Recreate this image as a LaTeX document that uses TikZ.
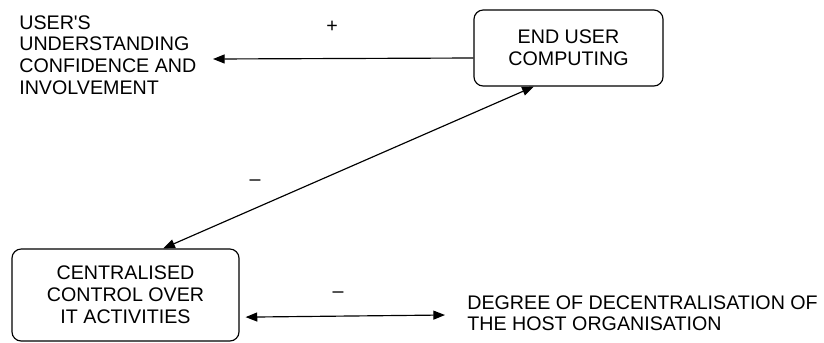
\documentclass[tikz,border=0pt]{standalone}
\usepackage{fontspec}
\setmainfont{Liberation Sans}
\usetikzlibrary{arrows.meta}

\begin{document}
\begin{tikzpicture}[x=0.6pt,y=-0.6pt,
    every node/.style={font=\fontsize{11.8}{13.1}\selectfont},
    box/.style={draw,line width=0.7pt,rounded corners=5.5pt,align=center},
    link/.style={line width=0.7pt,-{Triangle[length=7pt,width=5.4pt]}},
    twoway/.style={line width=0.7pt,{Triangle[length=7pt,width=5.4pt]}-{Triangle[length=7pt,width=5.4pt]}}]
  \useasboundingbox (0,0) rectangle (824,342);
  % the two boxes
  \node[box,minimum width=113.4pt,minimum height=45.6pt] (euc) at (568.5,48) {END USER\\COMPUTING};
  \node[box,minimum width=136.2pt,minimum height=55.2pt] (cc) at (125.5,295) {CENTRALISED\\CONTROL OVER\\IT ACTIVITIES};
  % free texts
  \node[anchor=north west,inner sep=0pt,align=left] (usr) at (19,15) {USER\textquotesingle S\\UNDERSTANDING\\CONFIDENCE AND\\INVOLVEMENT};
  \node[anchor=north west,inner sep=0pt,align=left] (dec) at (467,295) {DEGREE OF DECENTRALISATION OF\\THE HOST ORGANISATION};
  \coordinate (usrend) at (213,59);
  \coordinate (decend) at (445,315);
  % links with their signs
  \draw[link] (euc.186.6) -- (usrend);
  \draw[twoway] (euc.228.6) -- (cc.51.3);
  \draw[twoway,shorten <=3.6pt] (cc.349.76) -- (decend);
  \node (plus) at (332,27) {+};
  \node (minA) at (255,183) {--};
  \node (minB) at (338,295) {--};
\end{tikzpicture}
\end{document}
